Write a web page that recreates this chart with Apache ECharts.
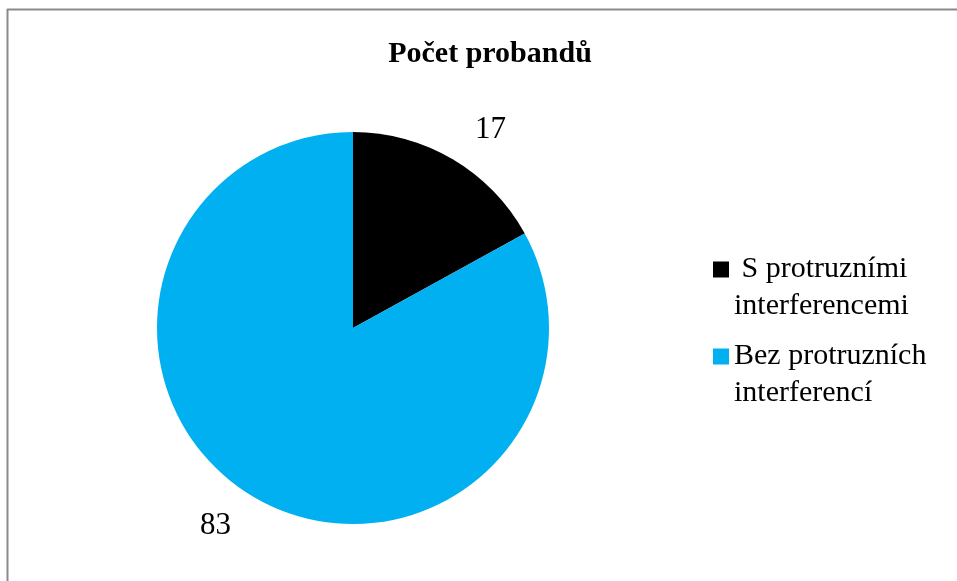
<!DOCTYPE html>
<html>
<head>
<meta charset="utf-8">
<script src="https://cdn.jsdelivr.net/npm/echarts@6/dist/echarts.min.js"></script>
<style>
  html, body { margin: 0; padding: 0; background: #ffffff; }
  #chart { width: 957px; height: 581px; }
</style>
</head>
<body>
<div id="chart"></div>
<script>
// Počet probandů – podíl probandů s protruzními interferencemi
const chartTitle = 'Počet probandů';
const categories = [' S protruzními\ninterferencemi', 'Bez protruzních\ninterferencí'];
const values = [17, 83];
const colors = ['#000000', '#00B0F0'];

const serif = '"Liberation Serif", "Times New Roman", serif';

const chart = echarts.init(document.getElementById('chart'), null, { renderer: 'canvas' });

chart.setOption({
  animation: false,
  backgroundColor: '#ffffff',
  title: {
    text: chartTitle,
    left: 490,
    textAlign: 'center',
    top: 39,
    padding: 0,
    textStyle: { fontFamily: serif, fontSize: 30, fontWeight: 'bold', color: '#000000' }
  },
  legend: {
    orient: 'vertical',
    left: 713,
    top: 214,
    padding: 0,
    itemGap: -24,
    itemWidth: 16,
    itemHeight: 16,
    icon: 'rect',
    selectedMode: false,
    data: categories,
    // a leading empty line keeps the swatch level with the first text line
    formatter: name => '\n' + name,
    textStyle: {
      fontFamily: serif,
      fontSize: 30,
      lineHeight: 37,
      color: '#000000'
    }
  },
  graphic: [
    { type: 'line', shape: { x1: 7, y1: 9.5, x2: 957, y2: 9.5 }, style: { stroke: '#8a8a8a', lineWidth: 2 }, silent: true },
    { type: 'line', shape: { x1: 7.5, y1: 9, x2: 7.5, y2: 581 }, style: { stroke: '#8a8a8a', lineWidth: 2 }, silent: true }
  ],
  series: [{
    type: 'pie',
    center: [353, 328],
    radius: 196,
    startAngle: 90,
    clockwise: true,
    avoidLabelOverlap: false,
    emphasis: { disabled: true },
    data: categories.map((name, i) => ({
      name: name,
      value: values[i],
      itemStyle: { color: colors[i] }
    })),
    label: {
      show: true,
      position: 'outside',
      formatter: '{c}',
      fontFamily: serif,
      fontSize: 31,
      color: '#000000'
    },
    labelLine: { show: false, length: 34, length2: 0 }
  }]
});
</script>
</body>
</html>
